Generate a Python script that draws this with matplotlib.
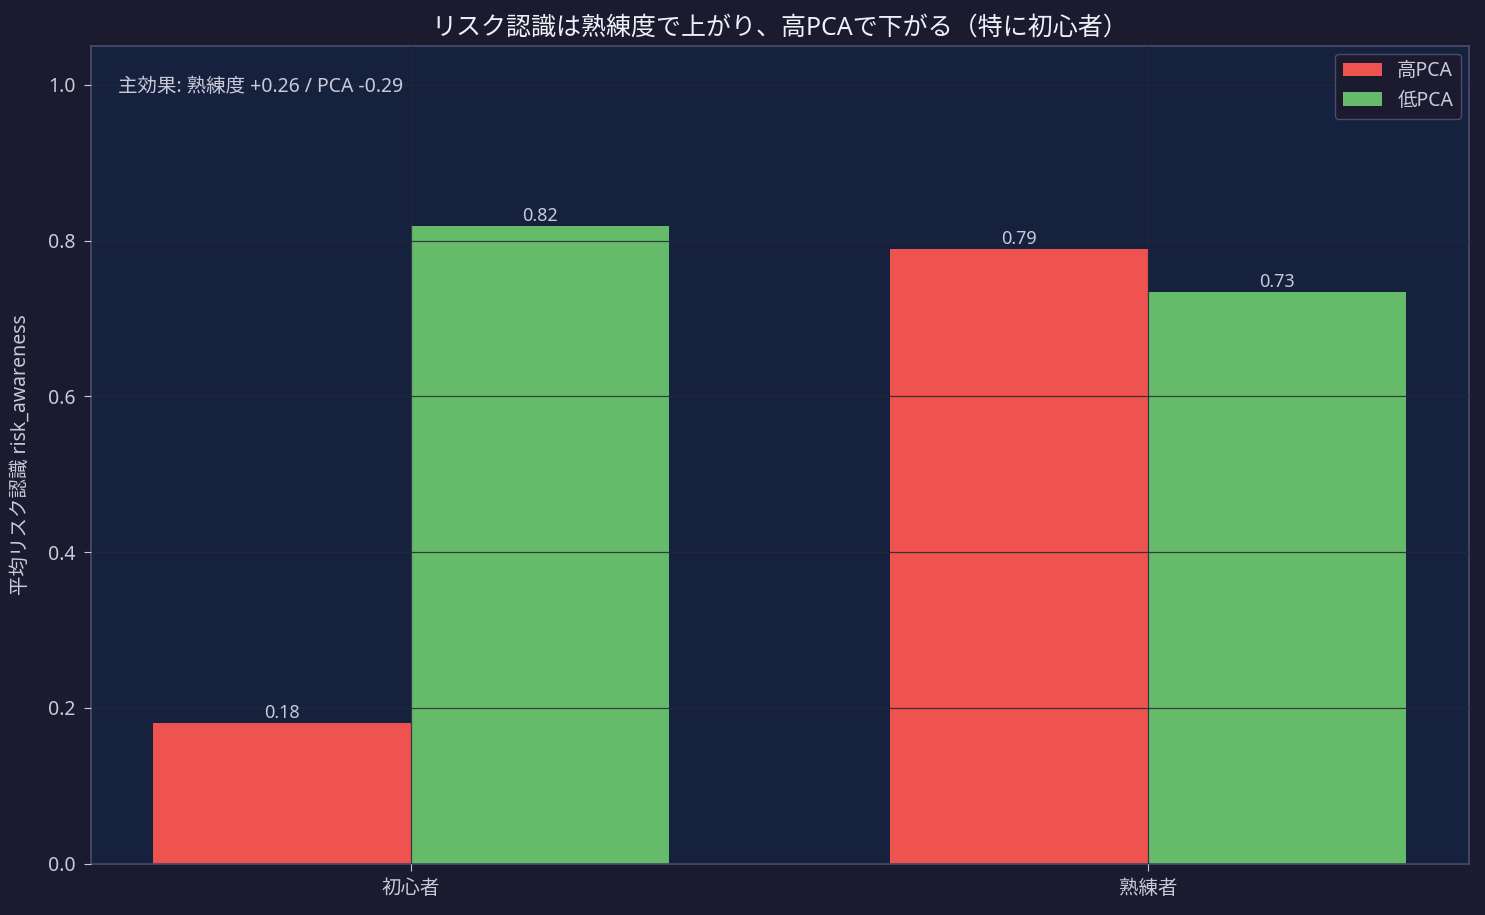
import matplotlib
matplotlib.use("Agg")
import matplotlib.pyplot as plt
import numpy as np

plt.rcParams["font.family"] = ["Noto Sans", "Noto Sans CJK JP", "DejaVu Sans"]

groups = ["初心者", "熟練者"]
high_pca = [0.181, 0.789]
low_pca = [0.819, 0.734]
series_names = ["高PCA", "低PCA"]

bg_fig = "#1c1a2e"
bg_ax = "#16213e"
text_c = "#c9c9d9"
spine_c = "#4a4c6e"

fig, ax = plt.subplots(figsize=(14.85, 9.15), dpi=100)
fig.patch.set_facecolor(bg_fig)
ax.set_facecolor(bg_ax)

x = np.arange(len(groups))
w = 0.35
b1 = ax.bar(x - w / 2, high_pca, w, color="#ef5350", label=series_names[0], zorder=1)
b2 = ax.bar(x + w / 2, low_pca, w, color="#66bb6a", label=series_names[1], zorder=1)

for bars in (b1, b2):
    for bar in bars:
        h = bar.get_height()
        ax.text(bar.get_x() + bar.get_width() / 2, h + 0.001, f"{h:.2f}",
                ha="center", va="bottom", color=text_c, fontsize=13, zorder=3)

ax.set_ylim(0, 1.05)
ax.set_xticks(x)
ax.set_xticklabels(groups)
ax.set_ylabel("平均リスク認識 risk_awareness", color=text_c, fontsize=14, labelpad=12)
ax.set_title("リスク認識は熟練度で上がり、高PCAで下がる（特に初心者）",
             color="#f0f0f8", fontsize=18, pad=8)

ax.grid(True, color="#242838", alpha=0.85, linewidth=0.9, zorder=2)
ax.set_axisbelow(False)
ax.tick_params(colors=text_c, labelsize=14, length=5, pad=6)
for sp in ax.spines.values():
    sp.set_color(spine_c)
    sp.set_linewidth(1.2)

eff_exp = (np.mean(high_pca[1:] + low_pca[1:])) - (np.mean(high_pca[:1] + low_pca[:1]))
eff_pca = np.mean(high_pca) - np.mean(low_pca)
ax.text(0.02, 0.962, f"主効果: 熟練度 {eff_exp:+.2f} / PCA {eff_pca:+.2f}".replace("+-", "-"),
        transform=ax.transAxes, ha="left", va="top", color=text_c, fontsize=14)

leg = ax.legend(loc="upper right", fontsize=14, facecolor=bg_fig, edgecolor=spine_c,
                labelcolor=text_c, framealpha=1, borderaxespad=0.4)

plt.subplots_adjust(left=0.061, right=0.989, top=0.95, bottom=0.056)
plt.savefig("out.png", facecolor=fig.get_facecolor())
